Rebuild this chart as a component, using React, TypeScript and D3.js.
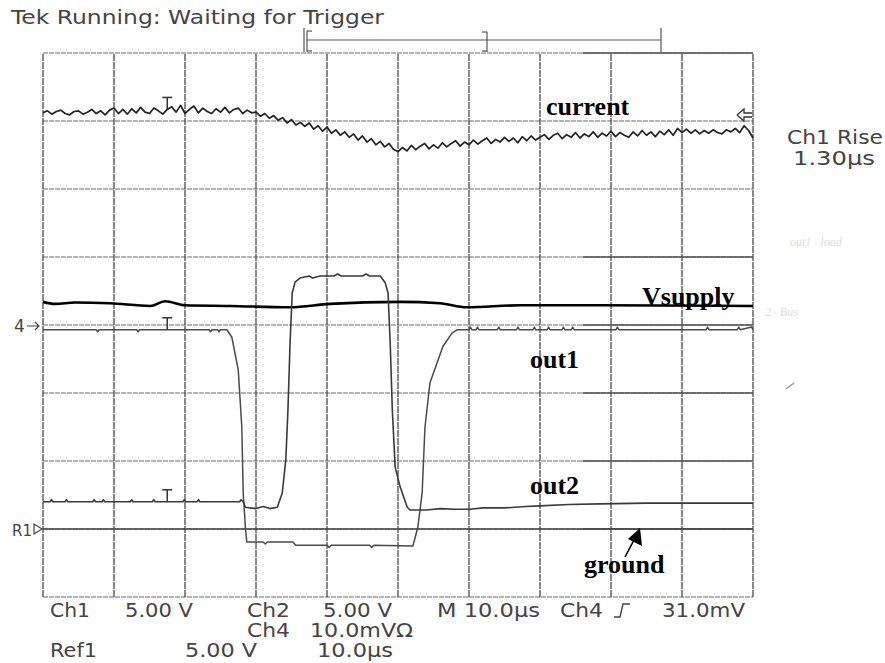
import React from "react";
import * as d3 from "d3";

// ---- Data (time in µs, amplitude in screen divisions, 0 = bottom graticule line) ----
const TIME_RANGE = [0, 100];
const DIV_RANGE = [0, 8];
const CURRENT_STEP = 0.625; // µs between current samples

const CURRENT = [
  7.12, 7.15, 7.10, 7.14, 7.16, 7.11, 7.09, 7.14, 7.15, 7.10,
  7.13, 7.17, 7.11, 7.15, 7.09, 7.16, 7.19, 7.11, 7.17, 7.10,
  7.18, 7.12, 7.20, 7.13, 7.11, 7.19, 7.15, 7.10, 7.17, 7.21,
  7.13, 7.23, 7.11, 7.17, 7.22, 7.12, 7.19, 7.14, 7.11, 7.18,
  7.13, 7.20, 7.12, 7.17, 7.19, 7.11, 7.16, 7.12, 7.13, 7.07,
  7.11, 7.04, 7.08, 7.01, 7.05, 6.97, 7.02, 6.94, 6.98, 6.92,
  6.97, 6.88, 6.93, 6.85, 6.91, 6.82, 6.87, 6.79, 6.84, 6.76,
  6.81, 6.72, 6.78, 6.69, 6.74, 6.65, 6.70, 6.62, 6.67, 6.58,
  6.55, 6.61, 6.56, 6.64, 6.58, 6.63, 6.67, 6.59, 6.65, 6.60,
  6.68, 6.62, 6.67, 6.71, 6.63, 6.69, 6.65, 6.72, 6.66, 6.71,
  6.75, 6.67, 6.73, 6.69, 6.76, 6.70, 6.75, 6.68, 6.77, 6.71,
  6.78, 6.72, 6.76, 6.80, 6.73, 6.79, 6.82, 6.74, 6.80, 6.76,
  6.83, 6.75, 6.81, 6.77, 6.84, 6.76, 6.82, 6.78, 6.85, 6.77,
  6.83, 6.79, 6.76, 6.84, 6.78, 6.86, 6.79, 6.84, 6.77, 6.85,
  6.80, 6.87, 6.79, 6.89, 6.83, 6.88, 6.82, 6.87, 6.81, 6.86,
  6.82, 6.87, 6.83, 6.81, 6.87, 6.84, 6.89, 6.83, 6.93, 6.86,
  6.75,
];

const VSUPPLY_T = [0, 1.7, 4.5, 9.4, 15.1, 17.2, 20.0, 26.3, 34.8, 40.4, 50.3, 55.9, 59.7, 67.2, 78.5, 100];
const VSUPPLY_V = [4.34, 4.31, 4.33, 4.32, 4.28, 4.35, 4.29, 4.28, 4.26, 4.31, 4.34, 4.32, 4.26, 4.29, 4.29, 4.28];

const OUT1_T = [
  0, 7.5, 7.7, 7.9, 13.2, 13.4, 13.6, 23.4, 23.6, 23.8, 24.6, 24.8, 25.0, 25.9,
  26.6, 27.5, 28.0, 28.2, 28.5, 28.7, 31.0, 31.3, 31.6, 35.2, 35.6, 40.0, 40.3, 40.6, 46.0, 46.3, 46.6, 52.1,
  52.8, 53.4, 53.8, 54.5, 55.5, 56.3, 57.6, 58.3,
  60.0, 60.2, 60.4, 61.0, 61.2, 61.4, 64.0, 64.2, 64.4, 66.7, 66.9, 67.1, 69.0, 69.2, 69.4,
  71.0, 71.2, 71.4, 73.1, 73.3, 73.5, 74.4, 74.6, 74.8, 80.7, 80.9, 81.1, 93.4, 93.6, 93.8,
  97.8, 98.0, 98.2, 99.8, 100,
];
const OUT1_V = [
  3.93, 3.93, 3.90, 3.93, 3.93, 3.90, 3.93, 3.93, 3.90, 3.93, 3.93, 3.90, 3.93, 3.93,
  3.82, 3.34, 2.50, 1.53, 1.03, 0.81, 0.81, 0.78, 0.81, 0.81, 0.76, 0.76, 0.73, 0.76, 0.76, 0.73, 0.76, 0.75,
  1.03, 1.53, 2.50, 3.15, 3.44, 3.68, 3.88, 3.93,
  3.93, 3.97, 3.93, 3.93, 3.97, 3.93, 3.93, 3.97, 3.93, 3.93, 3.97, 3.93, 3.93, 3.97, 3.93,
  3.93, 3.97, 3.93, 3.93, 3.97, 3.93, 3.93, 3.97, 3.93, 3.93, 3.97, 3.93, 3.93, 3.97, 3.93,
  3.93, 3.97, 3.93, 3.97, 3.93,
];

const OUT2_T = [
  0, 1.0, 1.2, 1.4, 3.1, 3.3, 3.5, 7.0, 7.2, 7.4, 8.3, 8.5, 8.7, 12.3, 12.5, 12.7, 15.4, 15.6, 15.8,
  19.7, 19.9, 20.1, 21.7, 21.9, 22.1, 27.7, 27.9, 28.2,
  28.5, 30.0, 31.0, 32.0, 33.0, 33.7, 34.2, 34.5, 34.8, 35.1, 35.5, 36.2, 37.5, 38.0, 39.0, 41.0, 41.5, 42.0,
  45.0, 45.5, 46.0, 47.5, 48.2, 48.6, 48.9, 49.2, 49.6, 50.3, 51.3, 51.7, 54.0, 56.0, 58.0, 60.1, 62.0,
  65.0, 68.0, 70.0, 74.0, 78.5, 85.0, 90.0, 95.0, 100,
];
const OUT2_V = [
  1.40, 1.40, 1.43, 1.40, 1.40, 1.43, 1.40, 1.40, 1.43, 1.40, 1.40, 1.43, 1.40, 1.40, 1.43, 1.40, 1.40, 1.43, 1.40,
  1.40, 1.43, 1.40, 1.40, 1.43, 1.40, 1.40, 1.43, 1.40,
  1.32, 1.30, 1.33, 1.30, 1.32, 1.53, 2.02, 2.75, 3.74, 4.47, 4.63, 4.69, 4.72, 4.69, 4.72, 4.72, 4.75, 4.72,
  4.72, 4.75, 4.72, 4.72, 4.62, 4.47, 3.74, 2.75, 1.91, 1.62, 1.32, 1.28, 1.28, 1.30, 1.29, 1.29, 1.31,
  1.31, 1.33, 1.34, 1.36, 1.37, 1.38, 1.38, 1.38, 1.38,
];

const GROUND_T = [0, 100];
const GROUND_V = [1.0, 1.0];

const TRIGGER_T = 17.5;

const TITLE = "Tek Running: Waiting for Trigger";
const ROW1 = ["Ch1", "5.00 V", "Ch2", "5.00 V", "M 10.0\u00B5s", "Ch4", "31.0mV"];
const ROW2 = ["Ch4", "10.0mV\u03A9"];
const ROW3 = ["Ref1", "5.00 V", "10.0\u00B5s"];
const READOUT = ["Ch1 Rise", "1.30\u00B5s"];

export default function App() {
  const W = 885;
  const H = 663;
  const x = d3.scaleLinear().domain(TIME_RANGE).range([43, 753]);
  const y = d3.scaleLinear().domain(DIV_RANGE).range([597, 53]);

  const line = d3
    .line<[number, number]>()
    .x((d) => x(d[0]))
    .y((d) => y(d[1]));
  const smooth = d3
    .line<[number, number]>()
    .x((d) => x(d[0]))
    .y((d) => y(d[1]))
    .curve(d3.curveMonotoneX);

  const zip = (ts: number[], vs: number[]) => ts.map((t, i) => [t, vs[i]] as [number, number]);
  const currentPts = CURRENT.map((v, i) => [i * CURRENT_STEP, v] as [number, number]);

  const xTicks = x.ticks(10);
  const yTicks = y.ticks(8);

  const fontTek = "'DejaVu Sans', sans-serif";
  const fontLbl = "'Liberation Serif', 'DejaVu Serif', serif";

  const tMark = (v: number, key: string) => {
    const cx = x(TRIGGER_T);
    const cy = y(v);
    return (
      <g key={key} stroke="#333" strokeWidth={1.5}>
        <line x1={cx - 5} x2={cx + 5} y1={cy - 12} y2={cy - 12} />
        <line x1={cx} x2={cx} y1={cy - 12} y2={cy} />
      </g>
    );
  };

  const txt = (s: string, px: number, py: number, len: number, key: string) => (
    <text
      key={key}
      x={px}
      y={py}
      fontFamily={fontTek}
      fontSize={19}
      fill="#444"
      textLength={len}
      lengthAdjust="spacingAndGlyphs"
    >
      {s}
    </text>
  );

  return (
    <svg
      width={W}
      height={H}
      style={{ position: "absolute", left: 0, top: 0, background: "#fff" }}
    >
      <rect width={W} height={H} fill="#fff" />
      <text x={11} y={24} fontFamily={fontTek} fontSize={19} fill="#444" textLength={373} lengthAdjust="spacingAndGlyphs">
        {TITLE}
      </text>

      {/* trigger bracket */}
      <g stroke="#555" strokeWidth={1.2} fill="none">
        <line x1={307} x2={661} y1={40} y2={40} />
        <line x1={304} x2={304} y1={28} y2={52} />
        <line x1={307} x2={307} y1={31} y2={52} />
        <line x1={307} x2={312} y1={31} y2={31} />
        <line x1={307} x2={312} y1={51} y2={51} />
        <line x1={487} x2={487} y1={32} y2={52} />
        <line x1={482} x2={487} y1={32} y2={32} />
        <line x1={482} x2={487} y1={51} y2={51} />
        <line x1={661} x2={661} y1={28} y2={52} />
      </g>

      {/* graticule */}
      <g>
        {yTicks.map((t) => (
          <line key={"h" + t} x1={x(0)} x2={x(100)} y1={y(t)} y2={y(t)} stroke="#6a6a6a" strokeWidth={1.2} strokeDasharray="5,1" />
        ))}
        {xTicks.map((t) => (
          <line key={"v" + t} x1={x(t)} x2={x(t)} y1={y(0)} y2={y(8)} stroke="#4a4a4a" strokeWidth={1.3} strokeDasharray="7,1" />
        ))}
        {[8, 5, 4, 3, 2, 1].map((t) => (
          <line key={"k" + t} x1={x(76)} x2={x(100)} y1={y(t)} y2={y(t)} stroke="#555" strokeWidth={1.4} />
        ))}
      </g>

      {/* traces */}
      <path d={line(zip(GROUND_T, GROUND_V)) || ""} fill="none" stroke="#444" strokeWidth={1.4} />
      <path d={line(currentPts) || ""} fill="none" stroke="#222" strokeWidth={1.7} strokeLinejoin="round" />
      <path d={smooth(zip(VSUPPLY_T, VSUPPLY_V)) || ""} fill="none" stroke="#000" strokeWidth={2.6} />
      <path d={line(zip(OUT1_T, OUT1_V)) || ""} fill="none" stroke="#4a4a4a" strokeWidth={1.5} strokeLinejoin="round" />
      <path d={line(zip(OUT2_T, OUT2_V)) || ""} fill="none" stroke="#3a3a3a" strokeWidth={1.6} strokeLinejoin="round" />

      {tMark(CURRENT[28], "tc")}
      {tMark(OUT1_V[0], "t1")}
      {tMark(OUT2_V[0], "t2")}

      {/* ch1 marker arrow at right */}
      <path d="M737,115 L744,109 L744,113 L752,113 M737,115 L744,121 L744,117 L752,117" fill="none" stroke="#333" strokeWidth={1.3} />

      {/* left channel markers */}
      <text x={14} y={332} fontFamily={fontTek} fontSize={17} fill="#444">4</text>
      <path d="M27,326 L39,326 M35,322 L39,326 L35,330" stroke="#444" strokeWidth={1.2} fill="none" />
      <text x={12} y={536} fontFamily={fontTek} fontSize={15} fill="#444">R1</text>
      <path d="M34,524 L34,534 L42,529 Z" stroke="#444" strokeWidth={1.2} fill="none" />

      {/* labels */}
      <g fontFamily={fontLbl} fontWeight="bold" fontSize={26} fill="#000">
        <text x={546} y={115}>current</text>
        <text x={642} y={305}>Vsupply</text>
        <text x={530} y={368}>out1</text>
        <text x={530} y={494}>out2</text>
        <text x={584} y={573}>ground</text>
      </g>
      <line x1={625} y1={557} x2={634} y2={540} stroke="#000" strokeWidth={1.6} />
      <path d="M640,528 L642,546 L628,539 Z" fill="#000" />

      {/* right readout */}
      {txt(READOUT[0], 787, 144, 96, "r1")}
      {txt(READOUT[1], 793, 165, 82, "r2")}

      {/* faint scan residue */}
      <g fill="#dcdcdc" fontFamily={fontLbl} fontStyle="italic" fontSize={12}>
        <text x={790} y={246}>out1 · load</text>
        <text x={765} y={316}>2 · Bus</text>
      </g>
      <line x1={786} y1={389} x2={794} y2={383} stroke="#999" strokeWidth={1.5} />

      {/* bottom readout */}
      {txt(ROW1[0], 50, 617, 40, "b1")}
      {txt(ROW1[1], 125, 617, 68, "b2")}
      {txt(ROW1[2], 247, 617, 43, "b3")}
      {txt(ROW1[3], 323, 617, 69, "b4")}
      {txt(ROW1[4], 437, 617, 103, "b5")}
      {txt(ROW1[5], 560, 617, 43, "b6")}
      <path d="M614,617 L620,617 L623,604 L630,604" stroke="#444" strokeWidth={1.4} fill="none" />
      {txt(ROW1[6], 662, 617, 83, "b7")}
      {txt(ROW2[0], 247, 637, 43, "c1")}
      {txt(ROW2[1], 310, 637, 103, "c2")}
      {txt(ROW3[0], 50, 657, 47, "d1")}
      {txt(ROW3[1], 185, 657, 72, "d2")}
      {txt(ROW3[2], 317, 657, 76, "d3")}
    </svg>
  );
}
